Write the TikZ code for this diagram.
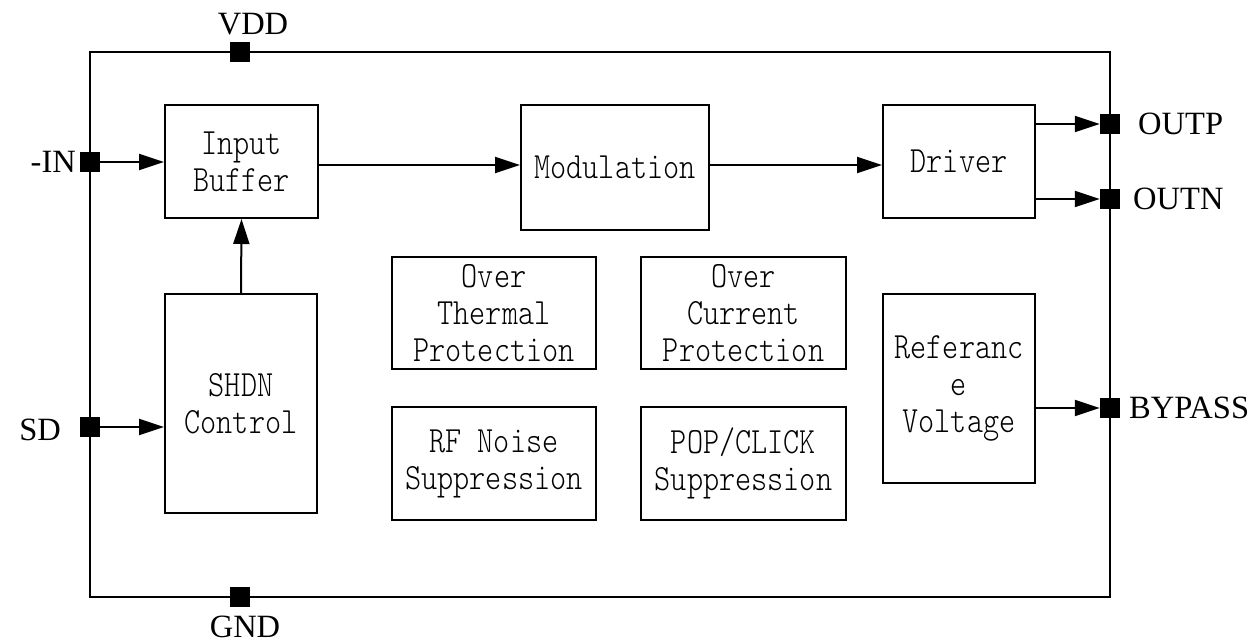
\documentclass[tikz,border=0pt]{standalone}
\usepackage{fontspec}
\setmainfont{Liberation Serif}
\newfontfamily\boxmono[FakeStretch=0.83]{lmmonolt10-regular.otf}
\usetikzlibrary{arrows.meta}
\begin{document}
\begin{tikzpicture}[x=1pt,y=-1pt,
  blk/.style={draw,line width=2pt,inner sep=0pt,align=center,
    font={\boxmono\fontsize{37}{37}\selectfont}},
  pin/.style={fill=black,minimum size=20pt,inner sep=0pt},
  lbl/.style={font={\fontsize{32.5}{34}\selectfont},inner sep=0pt},
  sig/.style={line width=2pt,-{Triangle[length=25pt,width=16pt]}}]
\useasboundingbox (0,0) rectangle (1252,644);
\node[draw,line width=2pt,minimum width=1020pt,minimum height=545pt,inner sep=0pt] (chip) at (600,324.5) {};
\node[blk,minimum width=153pt,minimum height=113pt] (ib) at (241.5,161.5) {Input\\Buffer};
\node[blk,minimum width=188pt,minimum height=125pt] (mod) at (615,167.5) {Modulation};
\node[blk,minimum width=152pt,minimum height=113pt] (drv) at (959,161.5) {Driver};
\node[blk,minimum width=152pt,minimum height=219pt] (shdn) at (241,403.5) {SHDN\\Control};
\node[blk,minimum width=204pt,minimum height=112pt] (otp) at (494,313) {Over\\Thermal\\Protection};
\node[blk,minimum width=205pt,minimum height=112pt] (ocp) at (743.5,313) {Over\\Current\\Protection};
\node[blk,minimum width=204pt,minimum height=113pt] (rf) at (494,463.5) {RF Noise\\Suppression};
\node[blk,minimum width=205pt,minimum height=113pt] (pop) at (743.5,463.5) {POP/CLICK\\Suppression};
\node[blk,minimum width=152pt,minimum height=189pt] (ref) at (959,388.5) {Referanc\\e\\Voltage};
\node[pin] (pvdd) at (240,52) {};
\node[pin] (pgnd) at (240,597) {};
\node[pin] (pin) at (90,162) {};
\node[pin] (psd) at (90,427) {};
\node[pin] (poutp) at (1110,124) {};
\node[pin] (poutn) at (1110,199) {};
\node[pin] (pbyp) at (1110,408) {};
\node[lbl] (lvdd) at (253,24) {VDD};
\node[lbl] (lgnd) at (245,627) {GND};
\node[lbl,anchor=east] (lin) at (76,162) {-IN};
\node[lbl,anchor=east] (lsd) at (61,430) {SD};
\node[lbl,anchor=west] (loutp) at (1138,124) {OUTP};
\node[lbl,anchor=west] (loutn) at (1133,199) {OUTN};
\node[lbl,anchor=west] (lbyp) at (1129,408) {BYPASS};
\draw[sig] (pin.east) -- (pin.east -| ib.west);
\draw[sig] (psd.east) -- (psd.east -| shdn.west);
\draw[sig] (shdn.north) -- (ib.south);
\draw[sig] (ib.east |- 0,165) -- (mod.west |- 0,165);
\draw[sig] (mod.east |- 0,165) -- (drv.west |- 0,165);
\draw[sig] (drv.east |- poutp) -- (poutp.west);
\draw[sig] (drv.east |- poutn) -- (poutn.west);
\draw[sig] (ref.east |- pbyp) -- (pbyp.west);
\end{tikzpicture}
\end{document}
